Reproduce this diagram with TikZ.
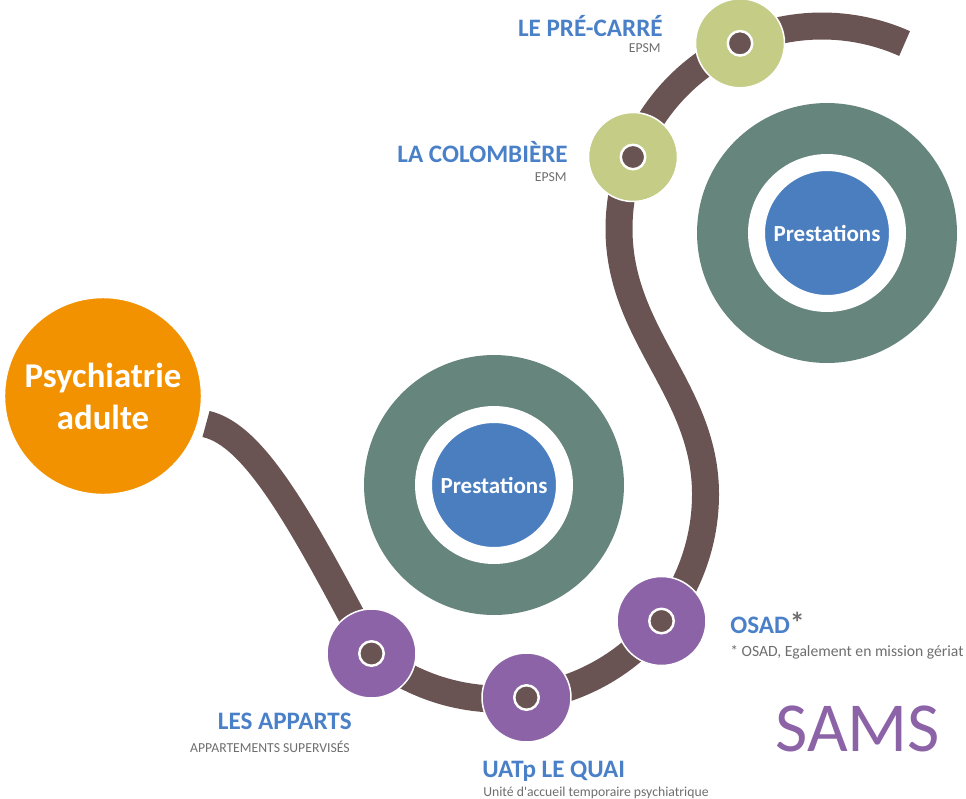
\documentclass[tikz,border=0pt]{standalone}
\usepackage{fontspec}
\setmainfont{Carlito}
\usetikzlibrary{backgrounds}
\definecolor{orng}{HTML}{F29200}
\definecolor{sage}{HTML}{66857D}
\definecolor{bleu}{HTML}{4A7EBF}
\definecolor{mauve}{HTML}{8C63A7}
\definecolor{olive}{HTML}{C4CC86}
\definecolor{brun}{HTML}{6A5453}
\definecolor{titre}{HTML}{4A80C8}
\definecolor{gris}{HTML}{6E6E6E}

\begin{document}
\begin{tikzpicture}[x=0.02cm,y=-0.02cm,
    stop/.style={circle,fill=#1,draw=white,line width=0.85pt,minimum size=1.78cm,inner sep=0pt},
    dot/.style={circle,fill=brun,draw=white,line width=1.4pt,minimum size=0.49cm,inner sep=0pt},
    ring/.style={circle,fill=sage,minimum size=5.2cm,inner sep=0pt},
    core/.style={circle,fill=bleu,draw=white,line width=0.34cm,minimum size=2.82cm,inner sep=0pt,
      text=white,font=\bfseries\fontsize{13.1}{15}\selectfont},
    track/.style={draw=brun,line width=0.54cm,line join=round},
    titre/.style={text=titre,font=\bfseries\fontsize{14.3}{16}\selectfont,inner sep=0pt},
    sub/.style={text=gris,font=\fontsize{7.8}{9}\selectfont,inner sep=0pt}]
  \useasboundingbox (0,0) rectangle (966,798);
  % prestations
  \node[ring] (ringA) at (494,485) {};
  \node[core] (presA) at (ringA) {Prestations};
  \node[ring] (ringB) at (827,233) {};
  \node[core] (presB) at (ringB) {Prestations};
  % depart
  \node[circle,fill=orng,draw=white,line width=2.5pt,minimum size=4cm,inner sep=0pt,align=center,
    text=white,font=\bfseries\fontsize{19.8}{24}\selectfont] (psy) at (103,396) {Psychiatrie\\adulte};
  % arrets
  \foreach \n/\c/\x/\y in {appa/mauve/371.5/653.5,uatp/mauve/526.5/697.5,osad/mauve/661.5/621,
      colo/olive/633/157,prec/olive/740/43.3}{
    \node[stop=\c] (\n) at (\x,\y) {};
    \node[dot] (\n-d) at (\n) {};}
  % trace
  \begin{scope}[on background layer]
    \coordinate (trk0) at (206,424);
    \draw[track] (trk0) .. controls (255,435) and (302,522) .. (appa.center)
      arc[start angle=129,end angle=0,radius=205]
      .. controls (705.5,390) and (619,335) .. (619,229)
      arc[start angle=180,end angle=294,radius=203];
  \end{scope}
  % etiquettes
  \node[titre,anchor=base east] (precT) at (663,36) {LE PRÉ-CARRÉ};
  \node[sub,anchor=base east] (precS) at (661,52.7) {EPSM};
  \node[titre,anchor=base east] (coloT) at (568,162) {LA COLOMBIÈRE};
  \node[sub,anchor=base east] (coloS) at (567,181) {EPSM};
  \node[titre,anchor=base west] (osadT) at (730,633) {OSAD{\color{gris}\fontsize{17}{17}\selectfont*}};
  \node[sub,anchor=base west,font=\fontsize{8.9}{10}\selectfont] (osadS) at (730,656) {* OSAD, Egalement en mission gériat};
  \node[titre,anchor=base east] (appaT) at (352,729) {LES APPARTS};
  \node[sub,anchor=base east] (appaS) at (350,752) {APPARTEMENTS SUPERVISÉS};
  \node[titre,anchor=base west] (uatpT) at (482,777) {UATp LE QUAI};
  \node[sub,anchor=base west] (uatpS) at (483,796) {Unité d\textquotesingle accueil temporaire psychiatrique};
  \node[anchor=base west,inner sep=0pt,text=mauve,font=\fontsize{40}{46}\selectfont] (sams) at (775,751) {SAMS};
\end{tikzpicture}
\end{document}
